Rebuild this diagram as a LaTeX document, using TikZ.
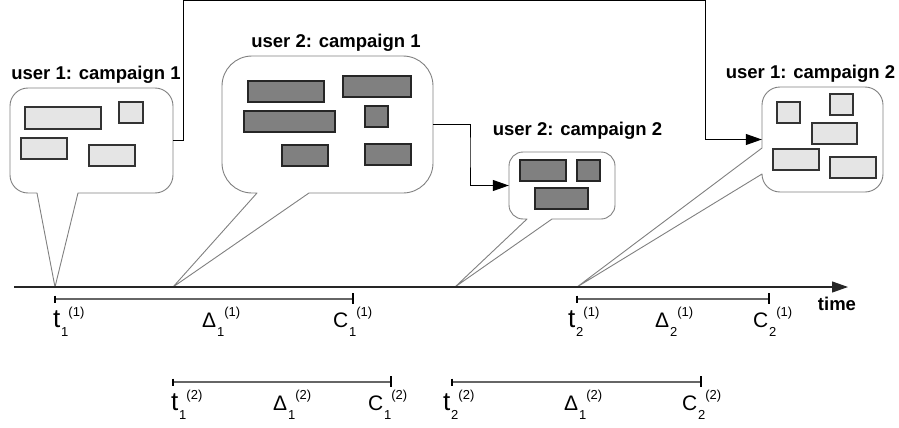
\documentclass[tikz,border=0pt]{standalone}
\usepackage{fontspec}
\setmainfont{Liberation Sans}
\usetikzlibrary{arrows.meta}
\newcommand\ilab[4][21]{{\fontsize{#1}{#1}\selectfont #2}\kern0.8pt\raisebox{-9.5pt}{\fontsize{13}{13}\selectfont #3}\raisebox{10.5pt}{\fontsize{13}{13}\selectfont #4}}
\begin{document}
\begin{tikzpicture}[x=1pt,y=-1pt,
  bubble/.style={draw=black!50, line width=0.9pt, fill=white, line join=round},
  lightbox/.style={draw=black!80, line width=1.2pt, fill=black!10},
  darkbox/.style={draw=black!85, line width=1.2pt, fill=black!50},
  conn/.style={draw=black, line width=1pt, -{Triangle[length=16pt,width=11pt]}},
  timeline/.style={draw=black!85, line width=1.2pt, -{Triangle[length=16pt,width=11pt]}},
  title/.style={font=\bfseries\fontsize{18.5}{18.5}\selectfont, inner sep=0pt, anchor=base},
  ival/.style={draw=black!60, line width=1.5pt},
  tickmark/.style={draw=black, line width=1.2pt},
  lab/.style={inner sep=0pt, anchor=base west},
  body/.style={inner sep=0pt, draw=none, rectangle}
]
\useasboundingbox (0,0) rectangle (899,428);

% bubble bodies (named)
\node[body, minimum width=163pt, minimum height=105pt] (b1) at (91.5,140.5) {};
\node[body, minimum width=211pt, minimum height=137pt] (b2) at (327.5,124.5) {};
\node[body, minimum width=106pt, minimum height=67pt] (b3) at (562,185.5) {};
\node[body, minimum width=121pt, minimum height=105pt] (b4) at (822.5,139.5) {};

% tail tips and bends
\coordinate (p1) at (55,287);
\coordinate (p2) at (173,287);
\coordinate (p3) at (455,287);
\coordinate (p4) at (577,287);
\coordinate (k1) at (183,1);
\coordinate (k2) at (705,1);
\coordinate (k3) at (470,150);
\coordinate (tl0) at (14,287);
\coordinate (tl1) at (848,287);

% bubbles
\draw[bubble] (p1) -- (37,193) [rounded corners=18pt] -- (10,193) -- (10,88) -- (173,88) -- (173,193) [sharp corners] -- (78,193) -- cycle;
\draw[bubble] (p2) -- (257,193) [rounded corners=30pt] -- (222,193) -- (222,56) -- (433,56) -- (433,193) [sharp corners] -- (309,193) -- cycle;
\draw[bubble] (p3) -- (527,219) [rounded corners=14pt] -- (509,219) -- (509,152) -- (615,152) -- (615,219) [sharp corners] -- (552,219) -- cycle;
\draw[bubble] (p4) -- (762,174) [rounded corners=18pt] -- (762,192) -- (883,192) -- (883,87) -- (762,87) [sharp corners] -- (762,148) -- cycle;

% bubble 1 content
\draw[lightbox] (25,107) rectangle (101,129);
\draw[lightbox] (119,102) rectangle (143,123);
\draw[lightbox] (21,138) rectangle (67,159);
\draw[lightbox] (89,145) rectangle (135,166);

% bubble 2 content
\draw[darkbox] (248,81) rectangle (324,102);
\draw[darkbox] (343,76) rectangle (411,97);
\draw[darkbox] (244,111) rectangle (335,132);
\draw[darkbox] (365,106) rectangle (388,127);
\draw[darkbox] (282,145) rectangle (328,166);
\draw[darkbox] (365,144) rectangle (411,165);

% bubble 3 content
\draw[darkbox] (520,160) rectangle (566,181);
\draw[darkbox] (577,160) rectangle (600,181);
\draw[darkbox] (535,188) rectangle (588,209);

% bubble 4 content
\draw[lightbox] (777,102) rectangle (800,123);
\draw[lightbox] (830,94) rectangle (853,115);
\draw[lightbox] (812,123) rectangle (857,144);
\draw[lightbox] (773,149) rectangle (819,170);
\draw[lightbox] (830,157) rectangle (876,178);

% titles
\node[title] (t1) at (96,80) {user 1: campaign 1};
\node[title] (t2) at (336,48) {user 2: campaign 1};
\node[title] (t3) at (577.5,135) {user 2: campaign 2};
\node[title] (t4) at (810.5,78) {user 1: campaign 2};

% connectors
\draw[conn] (b1.east) -| (k1) -- (k2) |- (b4.west);
\draw[conn] (b2.east) -| (k3) |- (b3.west);

% timeline
\draw[timeline] (tl0) -- (tl1);
\node[title] (time) at (837,310) {time};

% intervals
\coordinate (i1a) at (55,299);  \coordinate (i1b) at (353,299);
\coordinate (i2a) at (577,299); \coordinate (i2b) at (769,299);
\coordinate (i3a) at (173,382); \coordinate (i3b) at (391,382);
\coordinate (i4a) at (452,382); \coordinate (i4b) at (701,382);
\foreach \a/\b in {i1a/i1b, i2a/i2b, i3a/i3b, i4a/i4b}{
  \draw[ival] (\a) -- (\b);
  \draw[tickmark] ([yshift=3.5pt]\a) -- ([yshift=-3.5pt]\a);
  \draw[tickmark] ([yshift=6pt]\b) -- ([yshift=-5pt]\b);
}

% labels
\node[lab] (l1) at (53,327) {\ilab[26]{t}{1}{(1)}};
\node[lab] (l2) at (202,327) {\ilab{Δ}{1}{(1)}};
\node[lab] (l3) at (333,327) {\ilab{C}{1}{(1)}};
\node[lab] (l4) at (568,327) {\ilab[26]{t}{2}{(1)}};
\node[lab] (l5) at (655,327) {\ilab{Δ}{2}{(1)}};
\node[lab] (l6) at (753,327) {\ilab{C}{2}{(1)}};
\node[lab] (l7) at (171,410) {\ilab[26]{t}{1}{(2)}};
\node[lab] (l8) at (273,410) {\ilab{Δ}{1}{(2)}};
\node[lab] (l9) at (368,410) {\ilab{C}{1}{(2)}};
\node[lab] (l10) at (443,410) {\ilab[26]{t}{2}{(2)}};
\node[lab] (l11) at (564,410) {\ilab{Δ}{1}{(2)}};
\node[lab] (l12) at (682,410) {\ilab{C}{2}{(2)}};
\end{tikzpicture}
\end{document}
